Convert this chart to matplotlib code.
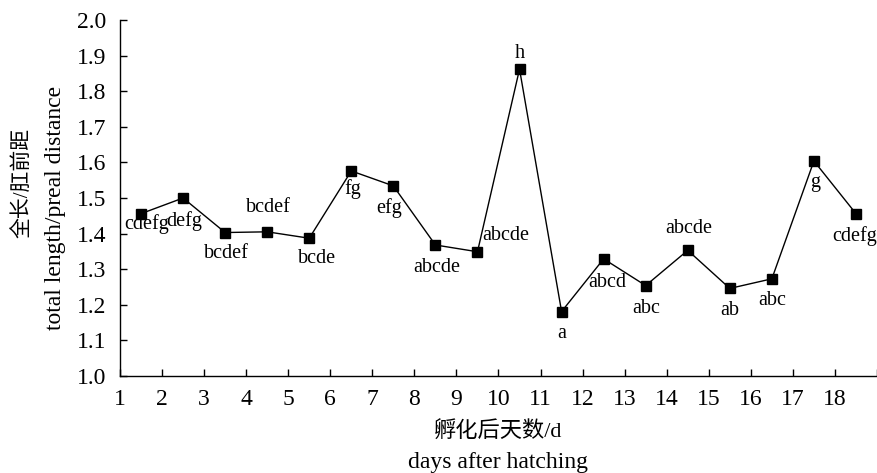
import matplotlib
matplotlib.use('Agg')
import matplotlib.pyplot as plt
import numpy as np

# data
days = [1.5, 2.5, 3.5, 4.5, 5.5, 6.5, 7.5, 8.5, 9.5,
        10.5, 11.5, 12.5, 13.5, 14.5, 15.5, 16.5, 17.5, 18.5]
ratio = [1.456, 1.500, 1.403, 1.405, 1.387, 1.576, 1.534, 1.368, 1.349,
         1.862, 1.181, 1.329, 1.254, 1.353, 1.246, 1.273, 1.604, 1.456]
letters = ['cdefg', 'defg', 'bcdef', 'bcdef', 'bcde', 'fg', 'efg', 'abcde', 'abcde',
           'h', 'a', 'abcd', 'abc', 'abcde', 'ab', 'abc', 'g', 'cdefg']
xticks = list(range(1, 20))
xticklabels = [str(i) for i in range(1, 19)] + ['']
yticks = [1.0, 1.1, 1.2, 1.3, 1.4, 1.5, 1.6, 1.7, 1.8, 1.9, 2.0]

# label offsets in pixels (dx, dy), dy positive = up
offsets = [(6, -10), (1, -23), (1, -21), (1, 24), (8, -20), (1, -18), (-4, -22),
           (1, -23), (5, 16), (0, 16), (0, -22), (4, -24), (0, -23), (1, 22),
           (0, -22), (0, -22), (1, -22), (-1, -22)]
has = ['center'] * 18
has[8] = 'left'

SERIF = ['Liberation Serif', 'Noto Sans CJK SC']
plt.rcParams['font.family'] = SERIF

fig = plt.figure(figsize=(8.78, 4.73), dpi=100)
ax = fig.add_axes([120 / 878, 1 - 376 / 473, 757 / 878, 356 / 473])

ax.plot(days, ratio, color='black', lw=1.0, marker='s', markersize=6.5,
        markerfacecolor='black', markeredgecolor='black', zorder=3)

for x, y, t, (dx, dy), ha in zip(days, ratio, letters, offsets, has):
    ax.annotate(t, (x, y), xytext=(dx, dy), textcoords='offset pixels',
                ha=ha, va='center', fontsize=14.5, family=SERIF)

ax.set_xlim(1, 19)
ax.set_ylim(1.0, 2.0)
ax.set_xticks(xticks)
ax.set_xticklabels(xticklabels)
ax.set_yticks(yticks)
ax.set_yticklabels([f'{v:.1f}' for v in yticks])
ax.tick_params(axis='both', direction='in', length=5, width=1, labelsize=17,
               colors='black')
ax.tick_params(axis='x', pad=9)
ax.tick_params(axis='y', pad=10)
for s in ['top', 'right']:
    ax.spines[s].set_visible(False)
for s in ['left', 'bottom']:
    ax.spines[s].set_linewidth(1.0)
ax.set_facecolor('white')

fig.text(498 / 878, 1 - 432 / 473, '孵化后天数/d', ha='center', va='center',
         fontsize=16, family=SERIF)
fig.text(498 / 878, 1 - 462 / 473, 'days after hatching', ha='center', va='center',
         fontsize=17, family=SERIF)
fig.text(23 / 878, 1 - 183 / 473, '全长/肛前距', rotation=90, ha='center', va='center',
         fontsize=15, family=SERIF)
fig.text(55 / 878, 1 - 208 / 473, 'total length/preal distance', rotation=90,
         ha='center', va='center', fontsize=17, family=SERIF)

fig.savefig('out.png', dpi=100, facecolor='white')
